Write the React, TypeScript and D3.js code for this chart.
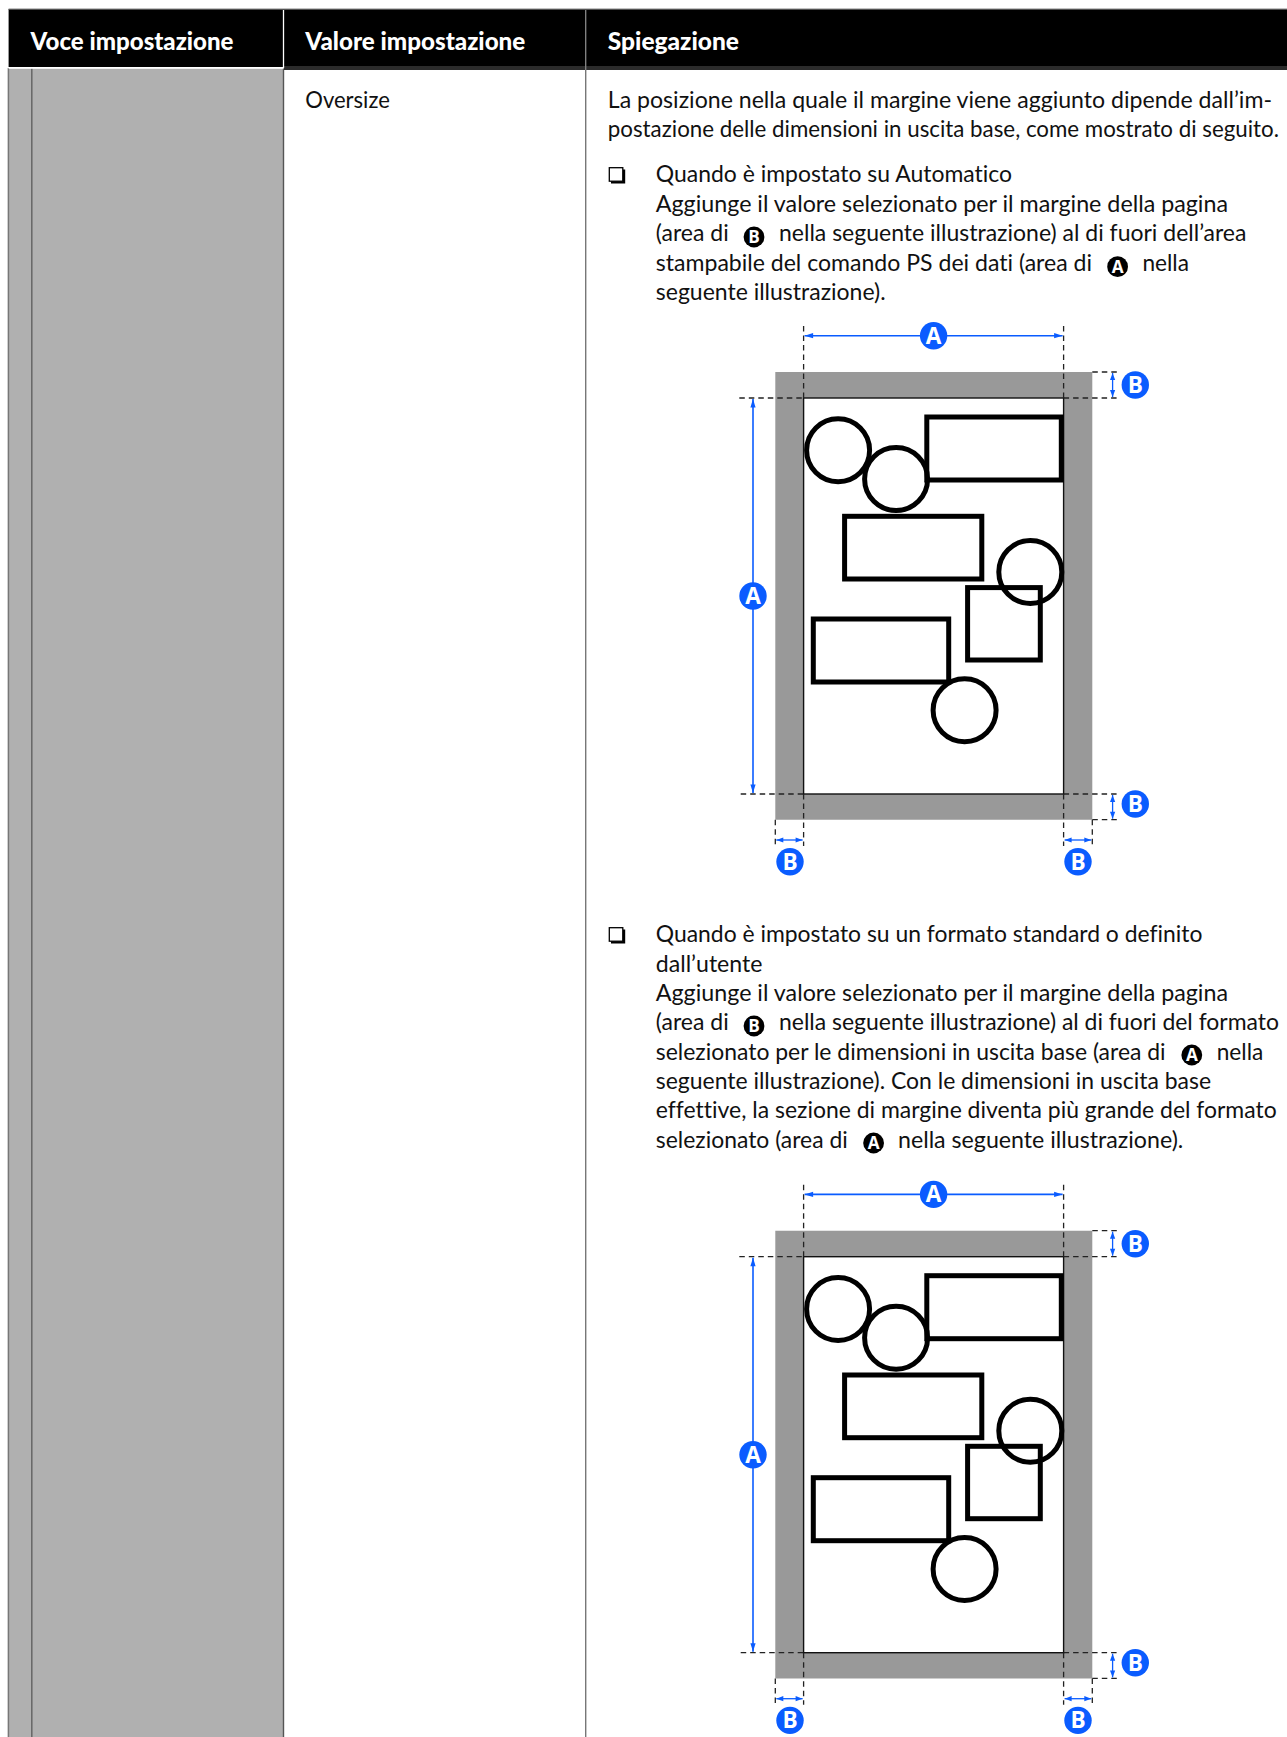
import React from "react";
import * as d3 from "d3";

const W = 1287, H = 1737;
const FONT = "Lato, 'Noto Sans', sans-serif";
const BLUE = "#0a5cff";
const NOLIG = { fontVariantLigatures: "none" } as React.CSSProperties;

const headers = ["Voce impostazione", "Valore impostazione", "Spiegazione"];
const headerSpans = [[30.6, 233.5], [305.3, 525.3], [607.8, 739]];
const cellText = "Oversize";

// text lines: string, x start, x end, baseline
const lineStrings = [
  "La posizione nella quale il margine viene aggiunto dipende dall’im-",
  "postazione delle dimensioni in uscita base, come mostrato di seguito.",
  "Quando è impostato su Automatico",
  "Aggiunge il valore selezionato per il margine della pagina",
  "(area di",
  "nella seguente illustrazione) al di fuori dell’area",
  "stampabile del comando PS dei dati (area di",
  "nella",
  "seguente illustrazione).",
  "Quando è impostato su un formato standard o definito",
  "dall’utente",
  "Aggiunge il valore selezionato per il margine della pagina",
  "(area di",
  "nella seguente illustrazione) al di fuori del formato",
  "selezionato per le dimensioni in uscita base (area di",
  "nella",
  "seguente illustrazione). Con le dimensioni in uscita base",
  "effettive, la sezione di margine diventa più grande del formato",
  "selezionato (area di",
  "nella seguente illustrazione).",
];
const lineX0 = [607.8, 607.8, 655.8, 655.8, 655.8, 779, 655.8, 1142.4, 655.8, 655.8, 655.8, 655.8, 655.8, 779, 655.8, 1216.7, 655.8, 655.8, 655.8, 898];
const lineX1 = [1272, 1279, 1012, 1228, 728.7, 1246.4, 1092, 1189, 885.6, 1202.4, 762.4, 1228, 728.7, 1279, 1165.6, 1263.3, 1211, 1276.7, 847.8, 1183.3];
const lineY = [107.7, 136.7, 181.7, 211.7, 240.7, 240.7, 270.7, 270.7, 300, 941.7, 971.7, 1001, 1030, 1030, 1060, 1060, 1089, 1118, 1148, 1148];

const badgeLetters = ["B", "A", "B", "A", "A"];
const badgeX = [754, 1117.6, 754, 1191.8, 873.6];
const badgeY = [237, 266.7, 1026, 1055, 1143];
const bulletY = [182, 942];

// Diagram shapes, in diagram units (inner page 260 x 396)
const circleCx = [34.5, 92.5, 226.7, 161];
const circleCy = [52.3, 81, 174, 312.3];
const rectX = [123.2, 41, 164, 9.7];
const rectY = [19, 118.3, 189.6, 221];
const rectW = [134.5, 137.2, 72.7, 135.4];
const rectH = [63, 62.7, 72.4, 63];
const diagramOffsets = [0, 858.7];

const xs = d3.scaleLinear().domain([0, 260]).range([803.6, 1063.6]);
const ys = d3.scaleLinear().domain([0, 396]).range([398, 794]);

function Dash({ x1, y1, x2, y2 }: any) {
  return <line x1={x1} y1={y1} x2={x2} y2={y2} stroke="#222" strokeWidth={1.3} strokeDasharray="5.5 4" />;
}

function DoubleArrow({ x1, y1, x2, y2, sw = 1.6, hw = 2.6, hl = 8.5 }: any) {
  const vertical = x1 === x2;
  const head = (x: number, y: number, d: number) =>
    vertical
      ? `M${x},${y}L${x - hw},${y + d * hl}L${x + hw},${y + d * hl}Z`
      : `M${x},${y}L${x + d * hl},${y - hw}L${x + d * hl},${y + hw}Z`;
  return (
    <g>
      <line x1={x1} y1={y1} x2={x2} y2={y2} stroke={BLUE} strokeWidth={sw} />
      <path d={head(x1, y1, 1)} fill={BLUE} />
      <path d={head(x2, y2, -1)} fill={BLUE} />
    </g>
  );
}

function Badge({ cx, cy, r = 13.7, letter, fill = BLUE }: any) {
  return (
    <g>
      <circle cx={cx} cy={cy} r={r} fill={fill} />
      <text x={cx} y={cy + r * 0.58} textAnchor="middle" fontFamily="'Open Sans', sans-serif" fontWeight={700} fontSize={r * 1.65} fill="#fff">{letter}</text>
    </g>
  );
}

function Diagram({ dy }: { dy: number }) {
  const L = xs(0), R = xs(260), T = ys(0) + dy, B = ys(396) + dy;
  const oL = L - 28.3, oR = R + 28.7, oT = T - 26, oB = B + 25.7;
  const arrX = 1112.6;
  const cx = (L + R) / 2;
  return (
    <g>
      <path d={`M${oL},${oT}H${oR}V${oB}H${oL}Z M${L},${T}V${B}H${R}V${T}Z`} fill="#999" fillRule="evenodd" />
      <rect x={L} y={T} width={R - L} height={B - T} fill="#fff" stroke="#111" strokeWidth={1.4} />
      {circleCx.map((c, i) => (
        <circle key={i} cx={xs(c)} cy={ys(circleCy[i]) + dy} r={31.5} fill="none" stroke="#000" strokeWidth={5} />
      ))}
      {rectX.map((x, i) => (
        <rect key={i} x={xs(x)} y={ys(rectY[i]) + dy} width={xs(rectW[i]) - xs(0)} height={ys(rectH[i]) - ys(0)} fill="none" stroke="#000" strokeWidth={5} />
      ))}
      <Dash x1={L} y1={T - 72} x2={L} y2={T} />
      <Dash x1={R} y1={T - 72} x2={R} y2={T} />
      <Dash x1={739.3} y1={T} x2={L} y2={T} />
      <Dash x1={R} y1={T} x2={1120} y2={T} />
      <Dash x1={oR} y1={oT} x2={1117} y2={oT} />
      <Dash x1={740.7} y1={B} x2={L} y2={B} />
      <Dash x1={R} y1={B} x2={1120} y2={B} />
      <Dash x1={oR} y1={oB} x2={1117} y2={oB} />
      <Dash x1={oL} y1={oB} x2={oL} y2={oB + 25} />
      <Dash x1={L} y1={B} x2={L} y2={B + 52} />
      <Dash x1={R} y1={B} x2={R} y2={B + 52} />
      <Dash x1={oR} y1={oB} x2={oR} y2={oB + 25} />
      <DoubleArrow x1={L + 1} y1={T - 62.3} x2={R - 1} y2={T - 62.3} />
      <Badge cx={cx} cy={T - 62.3} letter="A" />
      <DoubleArrow x1={753} y1={T + 1} x2={753} y2={B - 1} />
      <Badge cx={753} cy={T + 198} letter="A" />
      <DoubleArrow x1={arrX} y1={oT + 1} x2={arrX} y2={T - 1} sw={1.3} hl={7} />
      <Badge cx={1135.3} cy={T - 13} letter="B" />
      <DoubleArrow x1={arrX} y1={B + 1} x2={arrX} y2={oB - 1} sw={1.3} hl={7} />
      <Badge cx={1135.3} cy={B + 10} letter="B" />
      <DoubleArrow x1={oL + 1} y1={B + 46} x2={L - 1} y2={B + 46} sw={1.3} hl={7} />
      <Badge cx={790} cy={B + 67.7} letter="B" />
      <DoubleArrow x1={R + 1} y1={B + 46} x2={oR - 1} y2={B + 46} sw={1.3} hl={7} />
      <Badge cx={1078} cy={B + 67.7} letter="B" />
    </g>
  );
}

export default function App() {
  return (
    <svg width={W} height={H} viewBox={`0 0 ${W} ${H}`} style={{ position: "absolute", left: 0, top: 0, display: "block" }}>
      <rect width={W} height={H} fill="#fff" />
      <rect x={9} y={68} width={274} height={H - 68} fill="#b0b0b0" />
      <line x1={31.8} y1={68} x2={31.8} y2={H} stroke="#666" strokeWidth={1.5} />
      <line x1={283.5} y1={68} x2={283.5} y2={H} stroke="#555" strokeWidth={1.4} />
      <line x1={585.7} y1={68} x2={585.7} y2={H} stroke="#777" strokeWidth={1.4} />
      <line x1={8.4} y1={68} x2={8.4} y2={H} stroke="#777" strokeWidth={1.5} />
      <rect x={8.6} y={9} width={W - 8.6} height={58} fill="#000" />
      <rect x={8.6} y={8.6} width={W - 8.6} height={1.2} fill="#666" />
      <rect x={8.6} y={67} width={275} height={1.8} fill="#fff" />
      <rect x={284} y={66} width={W - 284} height={4} fill="#2b2b2b" />
      <line x1={283.5} y1={10} x2={283.5} y2={68} stroke="#fff" strokeWidth={1.3} />
      <line x1={585.7} y1={10} x2={585.7} y2={70} stroke="#888" strokeWidth={1.3} />
      {headers.map((h, i) => (
        <text key={h} x={headerSpans[i][0]} y={50} textLength={headerSpans[i][1] - headerSpans[i][0]} lengthAdjust="spacingAndGlyphs" fontFamily={FONT} fontWeight={900} fontSize={24} fill="#fff" style={NOLIG}>{h}</text>
      ))}
      <text x={305.3} y={107.7} textLength={84.5} lengthAdjust="spacingAndGlyphs" fontFamily={FONT} fontSize={24} fill="#111" style={NOLIG}>{cellText}</text>
      {lineStrings.map((s, i) => (
        <text key={i} x={lineX0[i]} y={lineY[i]} textLength={lineX1[i] - lineX0[i]} lengthAdjust="spacingAndGlyphs" fontFamily={FONT} fontSize={24} fill="#111" style={NOLIG}>{s}</text>
      ))}
      {badgeLetters.map((l, i) => (
        <Badge key={i} cx={badgeX[i]} cy={badgeY[i]} r={10.4} letter={l} fill="#000" />
      ))}
      {bulletY.map((y) => (
        <g key={y}>
          <rect x={609.3} y={y - 14.3} width={13.5} height={13.5} fill="#fff" stroke="#000" strokeWidth={1.3} />
          <path d={`M611,${y - 0.8}H622.8V${y - 12.5}H625.2V${y + 1.6}H611Z`} fill="#000" />
        </g>
      ))}
      {diagramOffsets.map((d) => <Diagram key={d} dy={d} />)}
    </svg>
  );
}
